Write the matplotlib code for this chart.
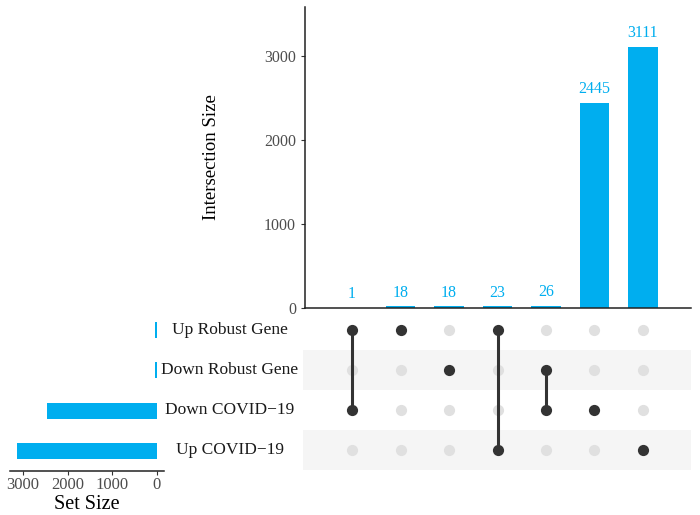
import matplotlib.pyplot as plt

plt.rcParams['font.family'] = ['Liberation Serif', 'DejaVu Serif']

# Data
set_names = ['Up Robust Gene', 'Down Robust Gene', 'Down COVID-19', 'Up COVID-19']
set_sizes = [42, 44, 2472, 3134]
inter_sizes = [1, 18, 18, 23, 26, 2445, 3111]
# membership of each intersection (indices into set_names)
inter_members = [[0, 2], [0], [1], [0, 3], [1, 2], [2], [3]]

bar_color = '#00AEEF'
dot_color = '#333333'
grey_dot = '#E0E0E0'
tick_color = '#4D4D4D'

W, H = 700, 515
fig = plt.figure(figsize=(7, 5.15), dpi=100)


def ax_px(x0, y0, x1, y1):
    return fig.add_axes([x0 / W, (H - y1) / H, (x1 - x0) / W, (y1 - y0) / H])


xl = (-0.97, 6.99)

# Intersection size bars
ax_top = ax_px(305, 7, 691, 308)
xs = list(range(len(inter_sizes)))
ax_top.bar(xs, inter_sizes, width=0.6, color=bar_color)
for x, v in zip(xs, inter_sizes):
    ax_top.annotate(str(v), (x, v), xytext=(0, 4), textcoords='offset points',
                    ha='center', va='bottom', color=bar_color, fontsize=11.5)
ax_top.set_xlim(*xl)
ax_top.set_ylim(0, 3583)
ax_top.set_yticks([0, 1000, 2000, 3000])
ax_top.set_xticks([])
ax_top.tick_params(axis='y', labelsize=11.5, labelcolor=tick_color, color='#333333',
                   length=3, width=0.8)
ax_top.set_ylabel('Intersection Size', fontsize=13.5, labelpad=32)
for s in ['top', 'right']:
    ax_top.spines[s].set_visible(False)
for s in ['left', 'bottom']:
    ax_top.spines[s].set_linewidth(1.1)
    ax_top.spines[s].set_color('#222222')

# Matrix
ax_m = ax_px(303, 310, 691, 470)
n_sets = len(set_names)
for r in range(n_sets):
    if r % 2 == 1:
        ax_m.axhspan(r - 0.5, r + 0.5, color='#F5F5F5', zorder=0, lw=0)
for x, members in zip(xs, inter_members):
    for r in range(n_sets):
        if r not in members:
            ax_m.scatter(x, r, s=65, color=grey_dot, zorder=2, lw=0)
    ax_m.plot([x, x], [min(members), max(members)], color=dot_color, lw=2.2, zorder=3)
    ax_m.scatter([x] * len(members), members, s=65, color=dot_color, zorder=4, lw=0)
ax_m.set_xlim(xl[0] - 2 / 48.5, xl[1])
ax_m.set_ylim(n_sets - 0.5, -0.5)
ax_m.axis('off')

# Set names
for r, name in enumerate(set_names):
    fig.text(230 / W, 1 - (330 + 40 * r) / H, name.replace('-', '\u2212'),
             ha='center', va='center', fontsize=12.5, color='#1a1a1a')

# Set size bars
ax_s = ax_px(10, 310, 164, 471)
ax_s.barh(range(n_sets), set_sizes, height=0.4, color=bar_color)
ax_s.set_xlim(3291, -157)
ax_s.set_ylim(n_sets - 0.5, -0.5)
ax_s.set_yticks([])
ax_s.set_xticks([0, 1000, 2000, 3000])
ax_s.tick_params(axis='x', labelsize=12, labelcolor=tick_color, color='#333333',
                 length=3, width=0.8, pad=1)
ax_s.set_xlabel('Set Size', fontsize=14.5, labelpad=1.5)
for s in ['top', 'right', 'left']:
    ax_s.spines[s].set_visible(False)
ax_s.spines['bottom'].set_linewidth(1.1)
ax_s.spines['bottom'].set_color('#222222')

fig.savefig('out.png', dpi=100)
